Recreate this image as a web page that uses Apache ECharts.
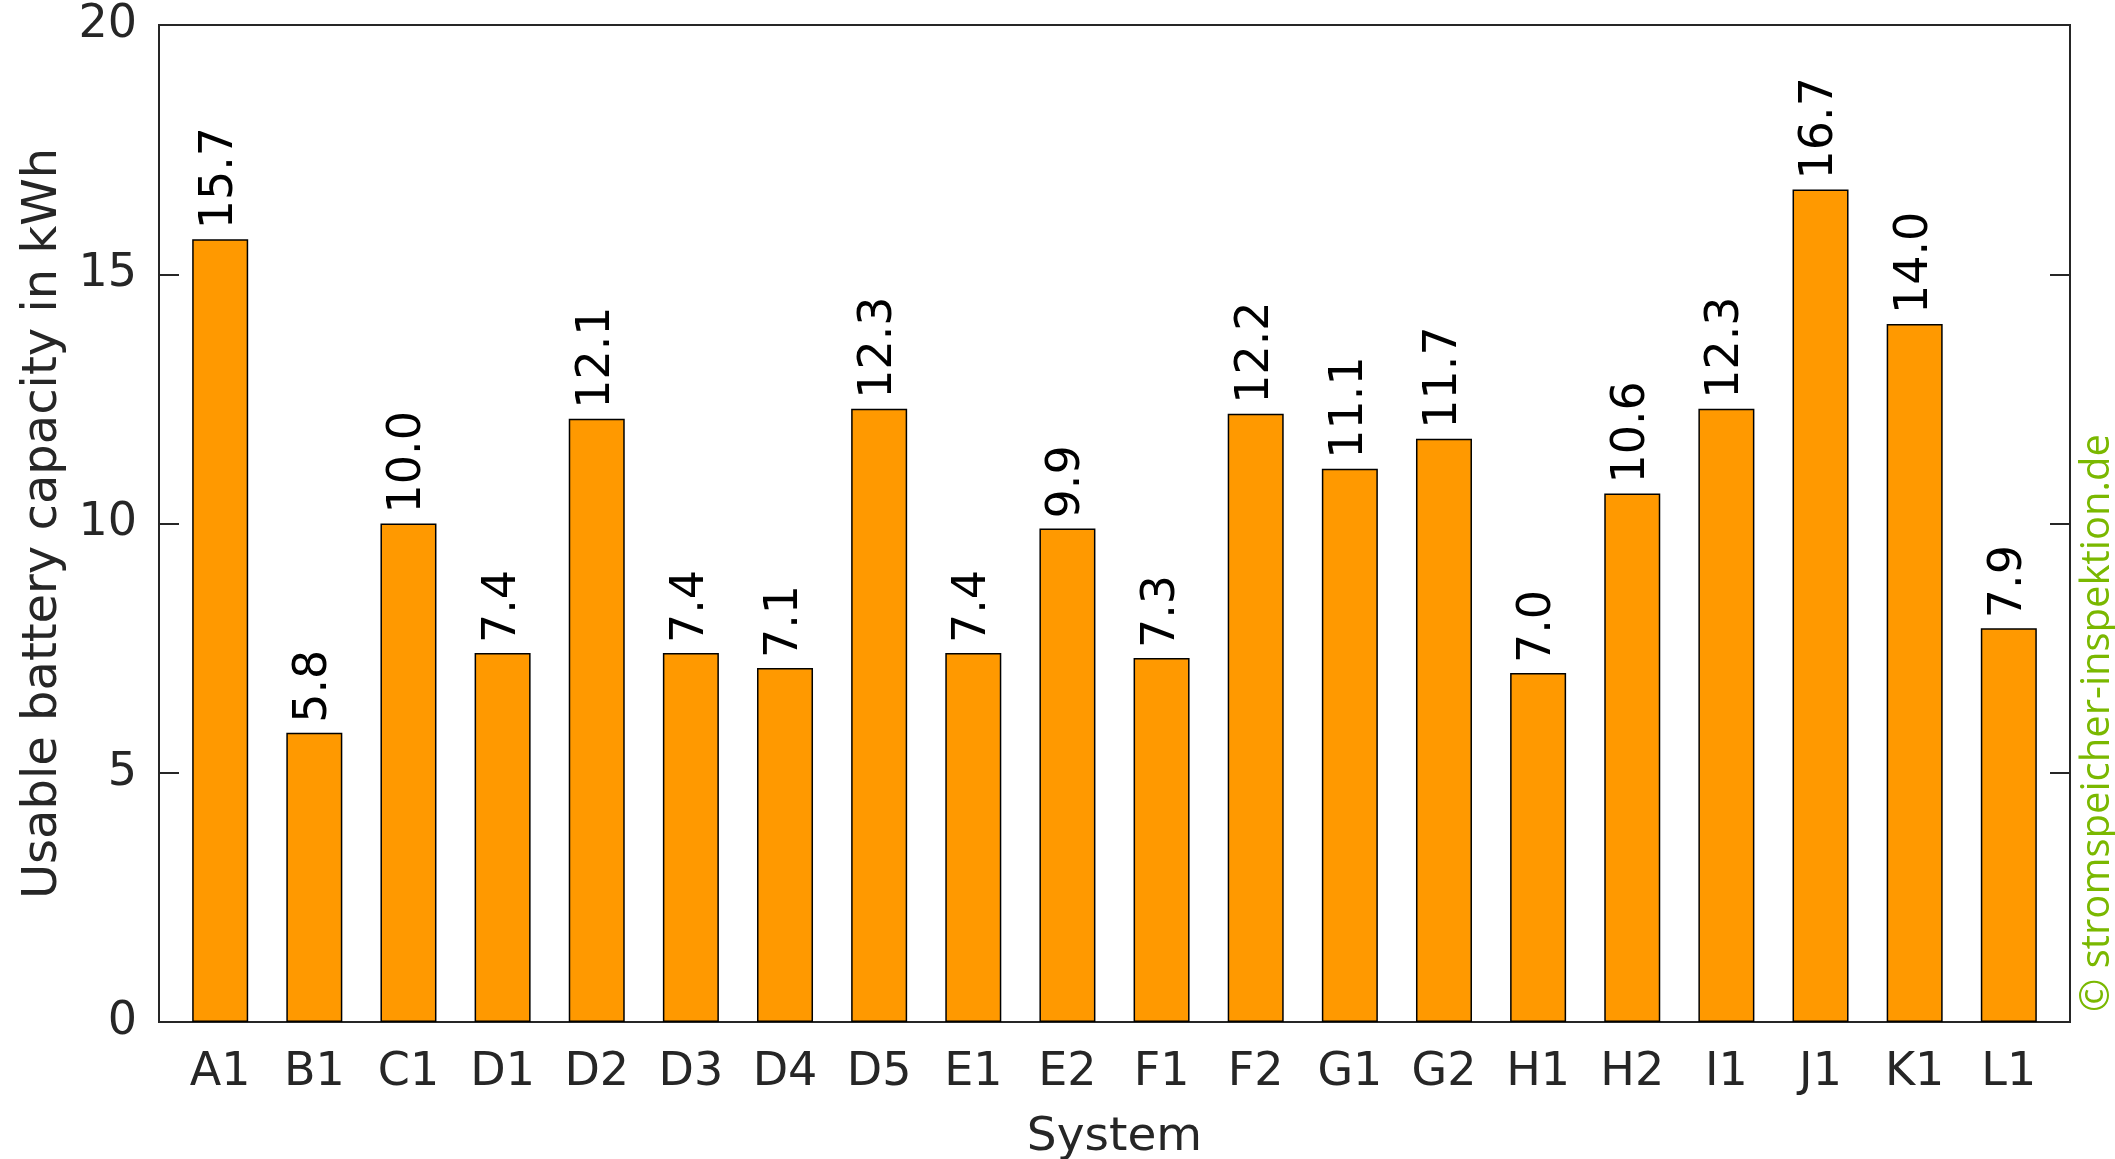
<!DOCTYPE html>
<html><head><meta charset="utf-8">
<script src="https://cdn.jsdelivr.net/npm/echarts@6/dist/echarts.min.js"></script>
<style>html,body{margin:0;padding:0;background:#fff}#c{width:2115px;height:1159px}</style>
</head><body><div id="c"></div>
<script>
const categories = ['A1','B1','C1','D1','D2','D3','D4','D5','E1','E2','F1','F2','G1','G2','H1','H2','I1','J1','K1','L1'];
const capacity = [15.7,5.8,10.0,7.4,12.1,7.4,7.1,12.3,7.4,9.9,7.3,12.2,11.1,11.7,7.0,10.6,12.3,16.7,14.0,7.9];
const yTicks = [0,5,10,15,20];

const chart = echarts.init(document.getElementById('c'));
const font = 'DejaVu Sans';
chart.setOption({
  animation:false,
  backgroundColor:'#fff',
  grid:{left:159,right:45,top:25,bottom:137,outerBoundsMode:'none',containLabel:false,show:true,borderColor:'#262626',borderWidth:2,backgroundColor:'transparent'},
  xAxis:{
    type:'value', min:-0.65, max:categories.length-1+0.65,
    name:'System', nameLocation:'middle', nameGap:92,
    nameTextStyle:{fontFamily:font,fontSize:47,color:'#262626'},
    axisLine:{show:true,onZero:false,lineStyle:{color:'#262626',width:2}},
    axisTick:{show:false},
    splitLine:{show:false},
    axisLabel:{customValues:categories.map((c,i)=>i),formatter:v=>categories[Math.round(v)],
      fontFamily:font,fontSize:46,color:'#262626',margin:28}
  },
  yAxis:[{
    type:'value', min:yTicks[0], max:yTicks[yTicks.length-1], interval:5,
    name:'Usable battery capacity in kWh', nameLocation:'middle', nameGap:90,
    nameTextStyle:{fontFamily:font,fontSize:48,color:'#262626'},
    axisLine:{show:true,onZero:false,lineStyle:{color:'#262626',width:2}},
    axisTick:{show:true,inside:true,length:20,lineStyle:{color:'#262626',width:2}},
    splitLine:{show:false},
    axisLabel:{fontFamily:font,fontSize:46,color:'#262626',margin:22}
  },{
    type:'value', position:'right', min:yTicks[0], max:yTicks[yTicks.length-1], interval:5,
    axisLine:{show:true,onZero:false,lineStyle:{color:'#262626',width:2}},
    axisTick:{show:true,inside:true,length:20,lineStyle:{color:'#262626',width:2}},
    splitLine:{show:false},
    axisLabel:{show:false}
  }],
  series:[{
    type:'bar',
    data:capacity.map((v,i)=>[i,v]),
    barWidth:56,
    itemStyle:{color:'#ff9900',borderColor:'#000',borderWidth:1.5},
    label:{show:true,position:'top',rotate:90,align:'left',verticalAlign:'middle',distance:10,
      fontFamily:font,fontSize:46,color:'#000',formatter:p=>p.value[1].toFixed(1)}
  }],
  graphic:[{
    type:'text', x:2098, y:1012, rotation:Math.PI/2,
    style:{text:'© stromspeicher-inspektion.de',fontFamily:'Open Sans',fontSize:40,fill:'#7ab800',
      textAlign:'left',textVerticalAlign:'middle'}
  }]
});
</script></body></html>
